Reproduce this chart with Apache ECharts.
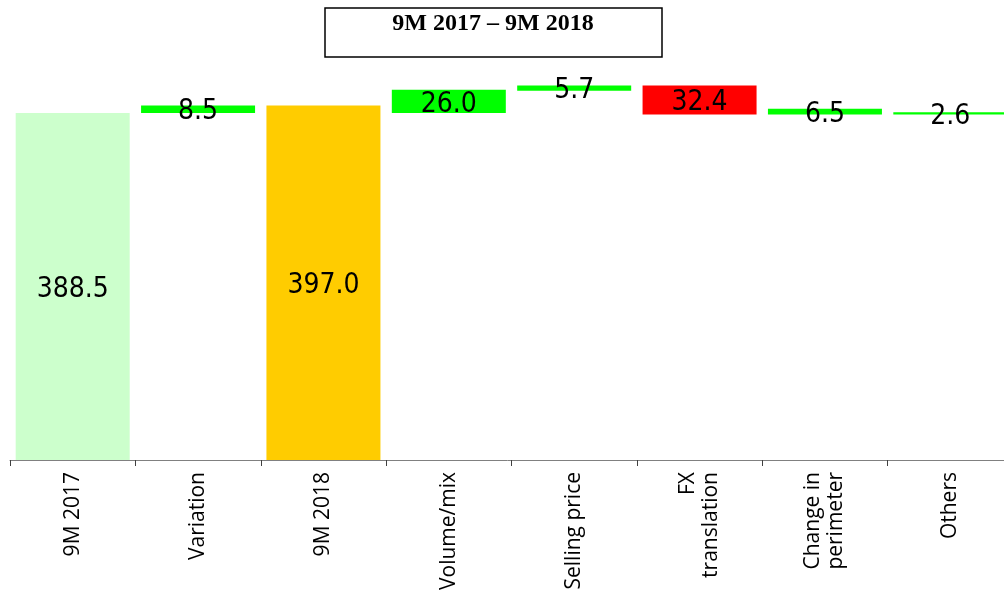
<!DOCTYPE html>
<html>
<head>
<meta charset="utf-8">
<script src="https://cdn.jsdelivr.net/npm/echarts@6/dist/echarts.min.js"></script>
<style>
  html, body { margin: 0; padding: 0; background: #fff; }
  #chart { width: 1004px; height: 594px; }
</style>
</head>
<body>
<div id="chart"></div>
<script>
var categories = ['9M 2017', 'Variation', '9M 2018', 'Volume/mix', 'Selling price', 'FX\ntranslation', 'Change in\nperimeter', 'Others'];
var values = [388.5, 8.5, 397.0, 26.0, 5.7, 32.4, 6.5, 2.6];
// lower edge of each floating bar
var bases = [0, 388.5, 0, 388.5, 413.5, 386.8, 386.8, 386.8];

var barColors = ['#CCFFCC', '#00FF00', '#FFCC00', '#00FF00', '#00FF00', '#FF0000', '#00FF00', '#00FF00'];

var myChart = echarts.init(document.getElementById('chart'));

var option = {
    animation: false,
    graphic: [{
        type: 'rect',
        shape: { x: 325, y: 8, width: 337, height: 49 },
        style: { fill: '#fff', stroke: '#000', lineWidth: 1.5 }
    }, {
        type: 'text',
        x: 493,
        y: 12,
        style: {
            text: '9M 2017 – 9M 2018',
            fontFamily: 'Liberation Serif',
            fontWeight: 'bold',
            fontSize: 24,
            fill: '#000',
            align: 'center',
            verticalAlign: 'top'
        }
    }],
    grid: {
        left: 10,
        top: 67,
        width: 1003,
        bottom: 134,
        containLabel: false,
        outerBoundsMode: 'none'
    },
    xAxis: {
        type: 'category',
        data: categories,
        axisLine: { lineStyle: { color: '#808080', width: 1 } },
        axisTick: { show: true, alignWithLabel: false, length: 6, lineStyle: { color: '#404040' } },
        axisLabel: {
            rotate: 90,
            margin: 12,
            interval: 0,
            fontFamily: 'Open Sans',
            fontSize: 21,
            lineHeight: 23,
            color: '#000'
        }
    },
    yAxis: {
        type: 'value',
        min: 0,
        max: 440,
        show: false
    },
    series: [{
        type: 'bar',
        stack: 'total',
        barWidth: 114,
        itemStyle: { color: 'transparent' },
        silent: true,
        data: bases
    }, {
        type: 'bar',
        stack: 'total',
        barWidth: 114,
        data: values.map(function (v, i) {
            return { value: v, itemStyle: { color: barColors[i] } };
        }),
        label: {
            show: true,
            position: 'inside',
            offset: [0, 3],
            fontFamily: 'DejaVu Sans Condensed',
            fontSize: 28,
            color: '#000',
            formatter: function (p) { return p.value.toFixed(1); }
        }
    }]
};

myChart.setOption(option);
</script>
</body>
</html>
